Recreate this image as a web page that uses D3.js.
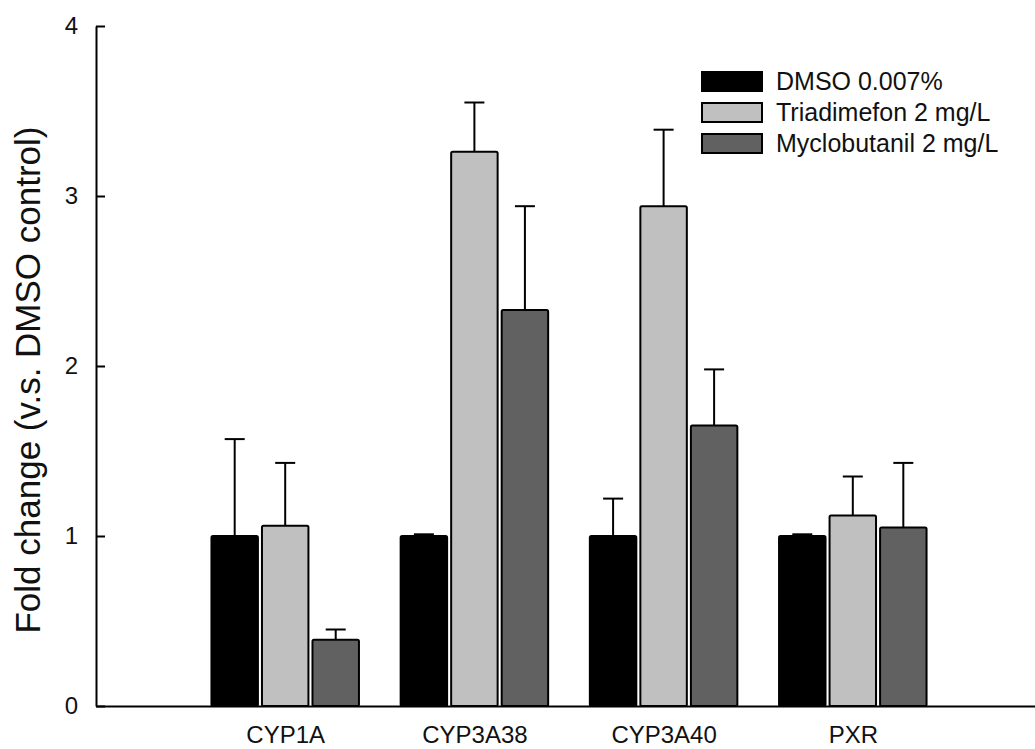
<!DOCTYPE html>
<html>
<head>
<meta charset="utf-8">
<script src="https://cdn.jsdelivr.net/npm/d3@7"></script>
<style>
  html, body { margin: 0; padding: 0; background: #fff; }
  svg { display: block; font-family: Arial, "Liberation Sans", sans-serif; }
</style>
</head>
<body>
<svg id="chart" width="1035" height="749"></svg>
<script>
// Gene categories and treatment groups
const categories = ["CYP1A", "CYP3A38", "CYP3A40", "PXR"];
const seriesNames = ["DMSO 0.007%", "Triadimefon 2 mg/L", "Myclobutanil 2 mg/L"];
const seriesColors = ["#000000", "#c0c0c0", "#616161"];

// Mean fold change per gene, one array per treatment
const dmsoMean = [1.00, 1.00, 1.00, 1.00];
const triadimefonMean = [1.06, 3.26, 2.94, 1.12];
const myclobutanilMean = [0.39, 2.33, 1.65, 1.05];

// Upper error (SD) per gene, one array per treatment
const dmsoErr = [0.57, 0.01, 0.22, 0.01];
const triadimefonErr = [0.37, 0.29, 0.45, 0.23];
const myclobutanilErr = [0.06, 0.61, 0.33, 0.38];

const yTicks = [0, 1, 2, 3, 4];
const yTitle = "Fold change (v.s. DMSO control)";

const means = [dmsoMean, triadimefonMean, myclobutanilMean];
const errs = [dmsoErr, triadimefonErr, myclobutanilErr];

const svg = d3.select("#chart");
const x0 = 96, x1 = 1042, yBottom = 706, yTop = 26;

const y = d3.scaleLinear().domain([0, 4]).range([yBottom, yTop]);
// Category positions 1..4 on a 0..5 axis
const x = d3.scaleLinear().domain([0, 5]).range([x0, x1]);
const inner = d3.scaleBand().domain(d3.range(seriesNames.length))
  .range([-73.75, 73.75]).paddingInner(0.08);

// Flatten to one record per bar
const bars = [];
categories.forEach((c, i) => {
  seriesNames.forEach((s, k) => {
    bars.push({ cat: i, series: k, mean: means[k][i], err: errs[k][i] });
  });
});

const plot = svg.append("g");

// Error bars (upper only), drawn behind bars
const eb = plot.append("g").attr("stroke", "#000").attr("stroke-width", 2);
bars.forEach(d => {
  const cx = x(d.cat + 1) + inner(d.series) + inner.bandwidth() / 2;
  eb.append("line").attr("x1", cx).attr("x2", cx)
    .attr("y1", y(d.mean)).attr("y2", y(d.mean + d.err));
  eb.append("line").attr("x1", cx - 10).attr("x2", cx + 10)
    .attr("y1", y(d.mean + d.err)).attr("y2", y(d.mean + d.err));
});

// Bars
plot.append("g").selectAll("rect").data(bars).join("rect")
  .attr("x", d => x(d.cat + 1) + inner(d.series))
  .attr("y", d => y(d.mean))
  .attr("width", inner.bandwidth())
  .attr("height", d => y(0) - y(d.mean))
  .attr("rx", 1.5)
  .attr("fill", d => seriesColors[d.series])
  .attr("stroke", "#000")
  .attr("stroke-width", 2);

// Y axis with inward ticks
const yAxis = d3.axisLeft(y).tickValues(yTicks).tickFormat(d3.format("d"))
  .tickSizeInner(-9).tickSizeOuter(0).tickPadding(18);
const gy = svg.append("g").attr("transform", `translate(${x0},0)`).call(yAxis);
gy.select(".domain").attr("stroke", "#000").attr("stroke-width", 2);
gy.selectAll(".tick line").attr("stroke", "#000").attr("stroke-width", 2);
gy.selectAll(".tick text").attr("font-size", 24).attr("fill", "#111")
  .attr("font-family", "Arial, 'Liberation Sans', sans-serif");

// X axis: baseline with category labels
const xAxis = d3.axisBottom(x).tickValues(categories.map((c, i) => i + 1))
  .tickFormat((d) => categories[d - 1]).tickSize(0).tickPadding(20);
const gx = svg.append("g").attr("transform", `translate(0,${yBottom})`).call(xAxis);
gx.select(".domain").attr("stroke", "#000").attr("stroke-width", 2);
gx.selectAll(".tick text").attr("font-size", 24).attr("fill", "#111")
  .attr("font-family", "Arial, 'Liberation Sans', sans-serif");

// Y axis title
svg.append("text")
  .attr("transform", `translate(40,380) rotate(-90)`)
  .attr("text-anchor", "middle")
  .attr("font-size", 35)
  .attr("fill", "#111")
  .text(yTitle);

// Legend
const legend = svg.append("g").attr("transform", "translate(702,72)");
seriesNames.forEach((name, k) => {
  const row = legend.append("g").attr("transform", `translate(0,${k * 31})`);
  row.append("rect").attr("width", 60).attr("height", 19)
    .attr("fill", seriesColors[k]).attr("stroke", "#000").attr("stroke-width", 2);
  row.append("text").attr("x", 74).attr("y", 9.5).attr("dy", "0.35em")
    .attr("font-size", 25).attr("fill", "#111").text(name);
});
</script>
</body>
</html>
